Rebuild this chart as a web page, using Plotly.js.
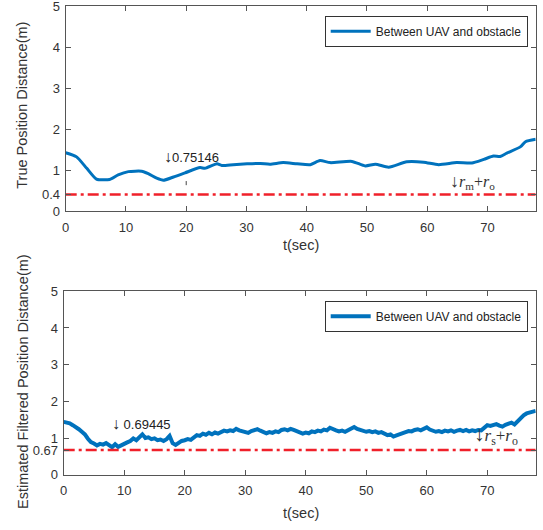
<!DOCTYPE html>
<html>
<head>
<meta charset="utf-8">
<script src="https://cdn.plot.ly/plotly-3.0.1.min.js"></script>
<style>html,body{margin:0;padding:0;background:#fff;}#chart{width:543px;height:530px;}</style>
</head>
<body>
<div id="chart"></div>
<script>
// ---- Top panel: true position distance ----
const tTrue = [0, 1.8, 3.5, 5.1, 7.3, 8.7, 10.4, 12.6, 13.7, 15.1, 16.2, 17.9, 19.8, 22.3, 23.1, 25.1, 25.9, 27.8, 30.1, 32.3, 33.9, 36.1, 38.4, 40.6, 42.2, 43.9, 47.5, 49.7, 51.4, 53.6, 56.6, 59.4, 61.9, 64.9, 67.4, 69.4, 71.0, 72.1, 73.2, 75.5, 76.3, 78.0];
const dTrue = [1.42, 1.32, 1.04, 0.78, 0.77, 0.88, 0.96, 0.97, 0.91, 0.80, 0.75, 0.83, 0.93, 1.06, 1.04, 1.15, 1.11, 1.13, 1.15, 1.16, 1.14, 1.18, 1.15, 1.13, 1.23, 1.18, 1.21, 1.10, 1.14, 1.07, 1.20, 1.19, 1.13, 1.18, 1.17, 1.26, 1.34, 1.33, 1.41, 1.57, 1.69, 1.75];

// ---- Bottom panel: estimated filtered position distance ----
const tEst = [0,0.5,1,1.5,2,2.5,3,3.5,4,4.5,5,5.5,6,6.5,7,7.5,8,8.5,9,9.5,10,10.5,11,11.5,12,12.5,13,13.5,14,14.5,15,15.5,16,16.5,17,17.5,18,18.5,19,19.5,20,20.5,21,21.5,22,22.5,23,23.5,24,24.5,25,25.5,26,26.5,27,27.5,28,28.5,29,29.5,30,30.5,31,31.5,32,32.5,33,33.5,34,34.5,35,35.5,36,36.5,37,37.5,38,38.5,39,39.5,40,40.5,41,41.5,42,42.5,43,43.5,44,44.5,45,45.5,46,46.5,47,47.5,48,48.5,49,49.5,50,50.5,51,51.5,52,52.5,53,53.5,54,54.5,55,55.5,56,56.5,57,57.5,58,58.5,59,59.5,60,60.5,61,61.5,62,62.5,63,63.5,64,64.5,65,65.5,66,66.5,67,67.5,68,68.5,69,69.5,70,70.5,71,71.5,72,72.5,73,73.5,74,74.5,75,75.5,76,76.5,77,77.5,78];
const dEst = [1.44,1.42,1.40,1.35,1.31,1.24,1.17,1.10,0.98,0.89,0.85,0.80,0.84,0.82,0.86,0.79,0.75,0.83,0.76,0.80,0.83,0.88,0.92,0.99,0.94,1.02,1.10,1.00,1.02,0.97,0.99,0.94,0.96,0.92,0.97,1.06,0.86,0.81,0.87,0.92,0.94,0.97,0.95,1.03,1.08,1.06,1.12,1.09,1.14,1.10,1.15,1.12,1.16,1.20,1.18,1.21,1.19,1.25,1.21,1.18,1.16,1.14,1.19,1.21,1.24,1.20,1.17,1.13,1.16,1.14,1.18,1.16,1.22,1.24,1.21,1.25,1.22,1.18,1.15,1.12,1.15,1.13,1.18,1.16,1.20,1.18,1.23,1.21,1.28,1.23,1.21,1.18,1.20,1.17,1.21,1.23,1.30,1.25,1.22,1.19,1.17,1.19,1.16,1.18,1.14,1.16,1.11,1.08,1.10,1.04,1.07,1.11,1.14,1.16,1.19,1.18,1.22,1.24,1.21,1.25,1.29,1.23,1.20,1.17,1.19,1.16,1.20,1.18,1.21,1.17,1.20,1.22,1.19,1.22,1.18,1.21,1.19,1.22,1.21,1.30,1.35,1.33,1.36,1.38,1.34,1.31,1.36,1.39,1.42,1.37,1.45,1.56,1.62,1.67,1.70,1.73,1.74];

// ---- Safety thresholds ----
const tSpan = [0, 78];
const thrTrue = [0.4, 0.4];
const thrEst = [0.67, 0.67];

// ---- Ticks / labels ----
const xTicks = [0, 10, 20, 30, 40, 50, 60, 70];
const yTicksTop = [0, 0.4, 1, 2, 3, 4, 5];
const yTextTop = ['0', '0.4', '1', '2', '3', '4', '5'];
const yTicksBot = [0, 0.67, 1, 2, 3, 4, 5];
const yTextBot = ['0', '0.67', '1', '2', '3', '4', '5'];
const seriesName = 'Between UAV and obstacle';
const minTrue = '0.75146';
const minEst = '0.69445';

const BLUE = '#0072BD';
const RED = '#F0202A';
const AX = '#555555';
const TXT = '#333333';
const FONT = 'Liberation Sans, Arial, sans-serif';
const SERIF = 'Liberation Serif, Times New Roman, serif';

const W = 543, H = 530;
const px = v => v / W;
const py = v => (H - v) / H;

const arrow = sz => '<span style="font-family:Liberation Serif;font-size:' + sz + 'px">↓</span>';

const traces = [
  {x: tTrue, y: dTrue, xaxis: 'x', yaxis: 'y', type: 'scatter', mode: 'lines',
   name: seriesName, legend: 'legend',
   line: {color: BLUE, width: 3, shape: 'spline', smoothing: 0.6}},
  {x: tSpan, y: thrTrue, xaxis: 'x', yaxis: 'y', type: 'scatter', mode: 'lines',
   showlegend: false, line: {color: RED, width: 2.5, dash: '11px,4px,3px,4px'}},
  {x: tEst, y: dEst, xaxis: 'x2', yaxis: 'y2', type: 'scatter', mode: 'lines',
   name: seriesName, legend: 'legend2',
   line: {color: BLUE, width: 4}},
  {x: tSpan, y: thrEst, xaxis: 'x2', yaxis: 'y2', type: 'scatter', mode: 'lines',
   showlegend: false, line: {color: RED, width: 2.5, dash: '11px,4px,3px,4px'}}
];

function xAx(domain, anchor) {
  return {domain: domain, anchor: anchor, range: [0, 78], tickvals: xTicks,
    ticks: 'inside', ticklen: 5, tickcolor: AX, showline: true, linecolor: AX, linewidth: 1,
    mirror: 'ticks', showgrid: false, zeroline: false, ticklabeloverflow: 'allow',
    tickfont: {family: FONT, size: 13, color: TXT}, ticklabelstandoff: 4};
}
function yAx(domain, anchor, vals, text) {
  return {domain: domain, anchor: anchor, range: [0, 5], tickvals: vals, ticktext: text,
    ticks: 'inside', ticklen: 5, tickcolor: AX, showline: true, linecolor: AX, linewidth: 1,
    mirror: 'ticks', showgrid: false, zeroline: false, ticklabeloverflow: 'allow',
    tickfont: {family: FONT, size: 13, color: TXT}, ticklabelstandoff: 2};
}

const legendStyle = (x, y) => ({x: x, y: y, xref: 'paper', yref: 'paper', xanchor: 'right', yanchor: 'top',
  bgcolor: '#ffffff', bordercolor: '#333333', borderwidth: 1,
  font: {family: FONT, size: 12, color: '#222222'}, itemwidth: 40, tracegroupgap: 0});

const layout = {
  width: W, height: H,
  margin: {l: 0, r: 0, t: 0, b: 0},
  paper_bgcolor: '#ffffff', plot_bgcolor: '#ffffff',
  showlegend: true,
  xaxis: xAx([px(65.7), px(535.7)], 'y'),
  yaxis: yAx([py(211), py(6)], 'x', yTicksTop, yTextTop),
  xaxis2: xAx([px(63.7), px(535.7)], 'y2'),
  yaxis2: yAx([py(474.7), py(291.3)], 'x2', yTicksBot, yTextBot),
  legend: legendStyle(px(527.7), py(15.7)),
  legend2: legendStyle(px(527.7), py(300.7)),
  annotations: [
    {text: 'True Position Distance(m)', xref: 'paper', yref: 'paper', x: px(21.7), y: py(105),
     xanchor: 'center', yanchor: 'middle',
     textangle: -90, showarrow: false, font: {family: FONT, size: 14.5, color: TXT}},
    {text: 'Estimated Filtered Position Distance(m)', xref: 'paper', yref: 'paper', x: px(23), y: py(382),
     xanchor: 'center', yanchor: 'middle',
     textangle: -90, showarrow: false, font: {family: FONT, size: 14.5, color: TXT}},
    {text: 't(sec)', xref: 'paper', yref: 'paper', x: px(300.5), y: py(245), xanchor: 'center', yanchor: 'middle',
     showarrow: false, font: {family: FONT, size: 14.5, color: TXT}},
    {text: 't(sec)', xref: 'paper', yref: 'paper', x: px(300.5), y: py(512.5), xanchor: 'center', yanchor: 'middle',
     showarrow: false, font: {family: FONT, size: 14.5, color: TXT}},
    {text: arrow(16) + minTrue, xref: 'x', yref: 'y', x: 16.0, y: 1.32, xanchor: 'left', yanchor: 'middle', showarrow: false,
     font: {family: FONT, size: 13, color: '#222222'}},
    {text: arrow(18) + '<i>r</i><sub>m</sub>+<i>r</i><sub>o</sub>', xref: 'x', yref: 'y', x: 63.5, y: 0.71,
     xanchor: 'left', yanchor: 'middle', showarrow: false, font: {family: SERIF, size: 16, color: '#333333'}},
    {text: arrow(16) + ' ' + minEst, xref: 'x2', yref: 'y2', x: 7.6, y: 1.40, xanchor: 'left', yanchor: 'middle', showarrow: false,
     font: {family: FONT, size: 13, color: '#222222'}},
    {text: arrow(21) + '<i>r</i><sub>s</sub>+<i>r</i><sub>o</sub>', xref: 'x2', yref: 'y2', x: 67.4, y: 1.08,
     xanchor: 'left', yanchor: 'middle', showarrow: false, font: {family: SERIF, size: 17, color: '#333333'}}
  ],
  shapes: [
    {type: 'line', xref: 'x', yref: 'y', x0: 20, x1: 20, y0: 0.63, y1: 0.73,
     line: {color: '#444444', width: 1}}
  ]
};

Plotly.newPlot('chart', traces, layout, {displayModeBar: false, staticPlot: true});
</script>
</body>
</html>
